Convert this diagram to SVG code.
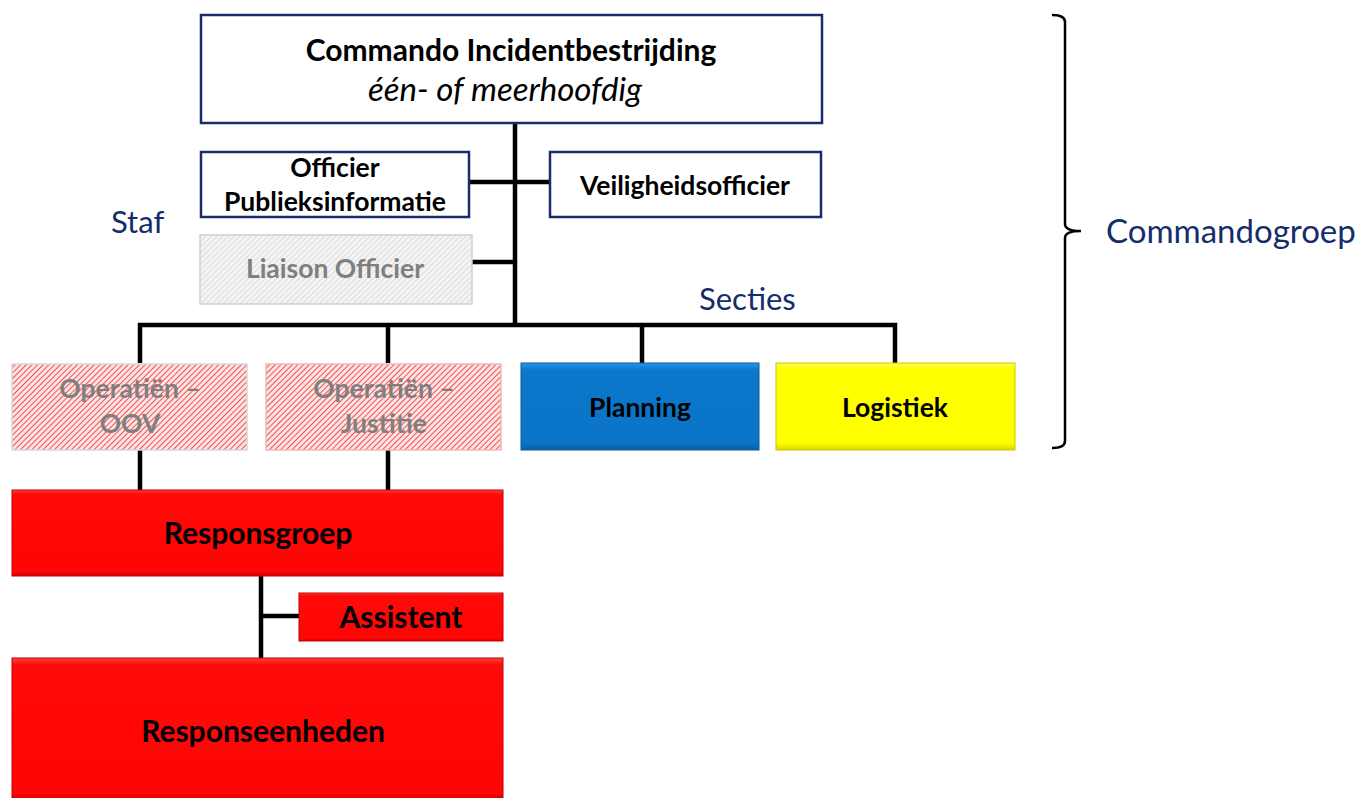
<svg xmlns="http://www.w3.org/2000/svg" width="1361" height="798" viewBox="0 0 1361 798">
<style>
  .lbl{font-family:Lato,"Open Sans","Liberation Sans",sans-serif;font-weight:bold;fill:#000;text-anchor:middle}
  .gray{fill:#7f7f7f}
  .side{font-family:Lato,"Open Sans","Liberation Sans",sans-serif;fill:#152d6b}
  .navy{fill:#fff;stroke:#1a2c6b;stroke-width:2.5}
  .conn{stroke:#000;stroke-width:4.5;fill:none}
</style>
<defs>
  <pattern id="hatchGray" width="4" height="4" patternUnits="userSpaceOnUse" patternTransform="rotate(45)">
    <rect width="4" height="4" fill="#f4f4f4"/>
    <line x1="0" y1="0" x2="0" y2="4" stroke="#cccccc" stroke-width="1.2"/>
  </pattern>
  <pattern id="hatchRed" width="4" height="4" patternUnits="userSpaceOnUse" patternTransform="rotate(45)">
    <rect width="4" height="4" fill="#fde4e4"/>
    <line x1="0" y1="0" x2="0" y2="4" stroke="#f04040" stroke-width="1.8"/>
  </pattern>
  <linearGradient id="gBlue" x1="0" y1="0" x2="0" y2="1">
    <stop offset="0" stop-color="#2a95e6"/><stop offset="0.08" stop-color="#0a78cc"/><stop offset="0.92" stop-color="#0a74c8"/><stop offset="1" stop-color="#0a5fa5"/>
  </linearGradient>
  <linearGradient id="gYellow" x1="0" y1="0" x2="0" y2="1">
    <stop offset="0" stop-color="#ffff50"/><stop offset="0.08" stop-color="#ffff00"/><stop offset="0.92" stop-color="#ffff00"/><stop offset="1" stop-color="#d8d800"/>
  </linearGradient>
  <linearGradient id="gRed" x1="0" y1="0" x2="0" y2="1">
    <stop offset="0" stop-color="#ff4040"/><stop offset="0.05" stop-color="#ff0a0a"/><stop offset="0.95" stop-color="#ff0505"/><stop offset="1" stop-color="#d00000"/>
  </linearGradient>
</defs>
<rect width="1361" height="798" fill="#fff"/>

<g id="connectors">
  <path class="conn" d="M515,123 V325"/>
  <path class="conn" d="M469,182 H549"/>
  <path class="conn" d="M472,262 H515"/>
  <path class="conn" d="M140,363 V325 H895 V363"/>
  <path class="conn" d="M388,325 V363"/>
  <path class="conn" d="M642,325 V363"/>
  <path class="conn" d="M140,450 V490"/>
  <path class="conn" d="M388,450 V490"/>
  <path class="conn" d="M261,576 V658"/>
  <path class="conn" d="M261,616 H299"/>
</g>

<g id="commando">
  <rect class="navy" x="201" y="15" width="621" height="108"/>
  <text class="lbl" x="511" y="61" font-size="30">Commando Incidentbestrijding</text>
  <text x="505" y="101" font-size="33" font-style="italic" text-anchor="middle" font-family="Lato,'Open Sans','Liberation Sans',sans-serif" fill="#000">één- of meerhoofdig</text>
</g>

<g id="publieksinformatie">
  <rect class="navy" x="201" y="152" width="268" height="65"/>
  <text class="lbl" x="335" y="177" font-size="26.5">Officier</text>
  <text class="lbl" x="335" y="211" font-size="26.5">Publieksinformatie</text>
</g>

<g id="veiligheidsofficier">
  <rect class="navy" x="550" y="152" width="271" height="65"/>
  <text class="lbl" x="685" y="195" font-size="26.5">Veiligheidsofficier</text>
</g>

<g id="liaison">
  <rect x="200" y="235" width="272" height="69" fill="url(#hatchGray)" stroke="#d0d0d0" stroke-width="1.5"/>
  <text class="lbl gray" x="335" y="278" font-size="26.5">Liaison Officier</text>
</g>

<text id="staf" class="side" x="111" y="233" font-size="31">Staf</text>
<text id="secties" class="side" x="699" y="310" font-size="31">Secties</text>

<g id="op-oov">
  <rect x="12" y="364" width="235" height="86" fill="url(#hatchRed)" stroke="#d8d8d8" stroke-width="1.5"/>
  <text class="lbl gray" x="130" y="398" font-size="26.5">Operatiën –</text>
  <text class="lbl gray" x="130" y="433" font-size="26.5">OOV</text>
</g>

<g id="op-justitie">
  <rect x="266" y="364" width="235" height="86" fill="url(#hatchRed)" stroke="#f0b8b8" stroke-width="1.5"/>
  <text class="lbl gray" x="384" y="398" font-size="26.5">Operatiën –</text>
  <text class="lbl gray" x="384" y="433" font-size="26.5">Justitie</text>
</g>

<g id="planning">
  <rect x="521" y="363" width="238" height="87" fill="url(#gBlue)" stroke="#0a5a9a" stroke-width="1"/>
  <text class="lbl" x="640" y="417" font-size="26.5">Planning</text>
</g>

<g id="logistiek">
  <rect x="776" y="363" width="239" height="87" fill="url(#gYellow)" stroke="#c8c800" stroke-width="1"/>
  <text class="lbl" x="895" y="417" font-size="26.5">Logistiek</text>
</g>

<g id="responsgroep">
  <rect x="12" y="490" width="491" height="86" fill="url(#gRed)" stroke="#c00000" stroke-width="1"/>
  <text class="lbl" x="258" y="544" font-size="30">Responsgroep</text>
</g>

<g id="assistent">
  <rect x="299" y="593" width="204" height="48" fill="url(#gRed)" stroke="#c00000" stroke-width="1"/>
  <text class="lbl" x="401" y="628" font-size="30">Assistent</text>
</g>

<g id="responseenheden">
  <rect x="12" y="658" width="491" height="142" fill="url(#gRed)" stroke="#c00000" stroke-width="1"/>
  <text class="lbl" x="263" y="742" font-size="30">Responseenheden</text>
</g>

<g id="commandogroep">
  <path d="M1052,15 Q1065,15 1065,22 V224 Q1065,231 1081,231 Q1065,231 1065,238 V441 Q1065,448 1052,448" fill="none" stroke="#000" stroke-width="2.5"/>
  <text class="side" x="1106" y="243" font-size="33">Commandogroep</text>
</g>
</svg>
